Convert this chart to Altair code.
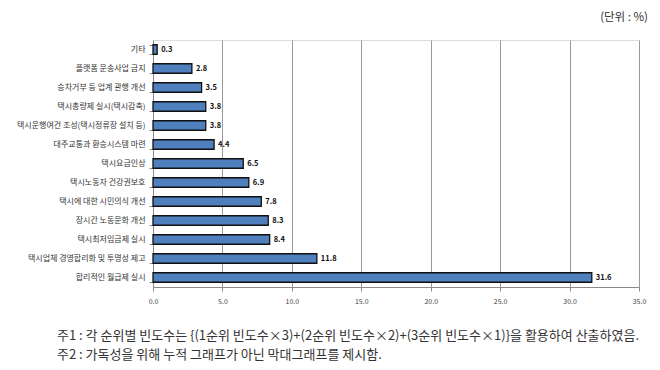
import altair as alt
import pandas as pd

categories = [
    "기타",
    "플랫폼 운송사업 금지",
    "승차거부 등 업계 관행 개선",
    "택시총량제 실시(택시감축)",
    "택시운행여건 조성(택시정류장 설치 등)",
    "대주교통과 환승시스템 마련",
    "택시요금인상",
    "택시노동자 건강권보호",
    "택시에 대한 시민의식 개선",
    "장시간 노동문화 개선",
    "택시최저임금제 실시",
    "택시업체 경영합리화 및 투명성 제고",
    "합리적인 월급제 실시",
]
values = [0.3, 2.8, 3.5, 3.8, 3.8, 4.4, 6.5, 6.9, 7.8, 8.3, 8.4, 11.8, 31.6]
x_ticks = [0, 5, 10, 15, 20, 25, 30, 35]
unit_text = "(단위 : %)"
notes = [
    "주1 : 각 순위별 빈도수는  {(1순위 빈도수×3)+(2순위 빈도수×2)+(3순위 빈도수×1)}을 활용하여 산출하였음.",
    "주2 : 가독성을 위해 누적 그래프가 아닌 막대그래프를 제시함.",
]

df = pd.DataFrame({"category": categories, "value": values})
FONT = "Noto Sans CJK KR"

x_enc = alt.X(
    "value:Q",
    scale=alt.Scale(domain=[0, 35], nice=False),
    axis=alt.Axis(
        values=x_ticks, format=".1f", title=None, grid=True, gridColor="#9a9a9a",
        gridWidth=1, domainColor="#8a8a8a", tickColor="#8a8a8a", tickSize=4,
        labelFontSize=7, labelColor="#444", labelPadding=6, labelFont=FONT,
        labelFlush=False,
    ),
)
y_enc = alt.Y(
    "category:N",
    sort=categories,
    scale=alt.Scale(paddingInner=0.5, paddingOuter=0.25),
    axis=alt.Axis(
        title=None, tickBand="extent", domainColor="#8a8a8a", tickColor="#8a8a8a",
        tickSize=4, labelFontSize=8, labelColor="#333", labelPadding=4,
        labelFont=FONT, labelLimit=200,
    ),
)

bars = alt.Chart(df).mark_bar(
    color="#4f7fbd", stroke="#111", strokeWidth=1.3
).encode(x=x_enc, y=y_enc)

labels = alt.Chart(df).mark_text(
    align="left", baseline="middle", dx=4, fontSize=7.5, fontWeight="bold",
    font=FONT, color="#111"
).encode(
    x="value:Q",
    y=alt.Y("category:N", sort=categories),
    text=alt.Text("value:Q", format=".1f"),
)

unit = alt.Chart(pd.DataFrame({"t": [unit_text]})).mark_text(
    align="right", baseline="middle", fontSize=11.5, font=FONT, color="#333"
).encode(x=alt.value(495), y=alt.value(-22), text="t:N")

note1 = alt.Chart(pd.DataFrame({"t": [notes[0]]})).mark_text(
    align="left", baseline="middle", fontSize=13, font=FONT, color="#333"
).encode(x=alt.value(-96), y=alt.value(49 + 247), text="t:N")
note2 = alt.Chart(pd.DataFrame({"t": [notes[1]]})).mark_text(
    align="left", baseline="middle", fontSize=13, font=FONT, color="#333"
).encode(x=alt.value(-96), y=alt.value(68 + 247), text="t:N")

chart = alt.layer(bars, labels, unit, note1, note2).properties(
    width=486,
    height=247,
    autosize=alt.AutoSizeParams(type="none"),
    padding={"left": 145, "top": 32, "right": 13, "bottom": 78},
).configure_view(stroke=None).configure(background="white")

chart.save("out.html", embed_options={"renderer": "svg", "actions": False})
